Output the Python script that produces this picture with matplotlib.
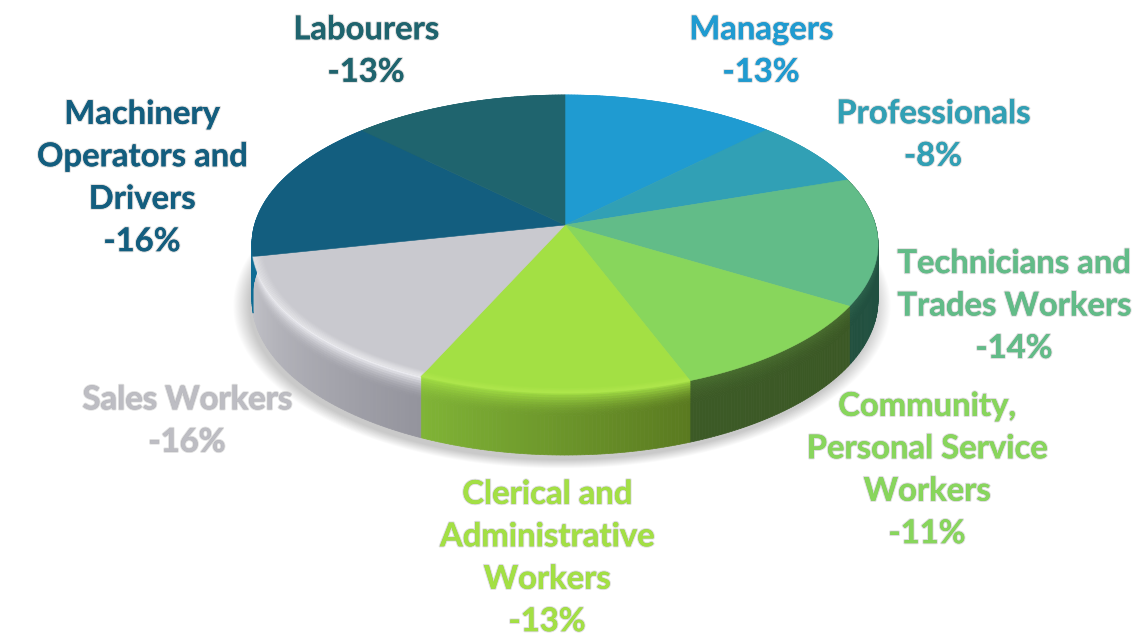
import numpy as np
import matplotlib
matplotlib.use("Agg")
import matplotlib.pyplot as plt
from matplotlib.collections import PolyCollection
from matplotlib.patches import Polygon
import matplotlib.patheffects as pe

categories = ["Managers", "Professionals", "Technicians and\nTrades Workers",
              "Community,\nPersonal Service\nWorkers",
              "Clerical and\nAdministrative\nWorkers", "Sales Workers",
              "Machinery\nOperators and\nDrivers", "Labourers"]
percent_labels = [13, 8, 14, 11, 13, 16, 16, 13]
values = [13.0, 7.6, 14.4, 11.0, 13.0, 15.5, 16.4, 13.1]
top_colors = ["#1F9BD1", "#31A0B5", "#62BC88", "#88D65C", "#A3E044", "#C9C9CF", "#135E7F", "#1F646E"]
side_start = ["#1F9BD1", "#31A0B5", "#1E5042", "#3B5825", "#5A7A20", "#94949D", "#0F6C94", "#1F646E"]
side_end = ["#1F9BD1", "#31A0B5", "#22503F", "#3C5A26", "#80B436", "#C2C2C8", "#0F6C94", "#1F646E"]
text_colors = ["#1F9BD1", "#31A0B5", "#62BC88", "#88D65C", "#A3E044", "#BDBDC3", "#135E7F", "#1F646E"]
label_xy = [(761, 51), (933, 135), (1014, 306), (927, 470), (547, 558), (187, 421), (142, 178), (366, 51)]

plt.rcParams["font.family"] = ["Lato", "DejaVu Sans"]
fig = plt.figure(figsize=(11.34, 6.43), dpi=100)
ax = fig.add_axes([0, 0, 1, 1])
ax.set_xlim(0, 1134)
ax.set_ylim(643, 0)
ax.axis("off")

CX, CY, A, B, C = 565, 225, 146.6, 0.1275, 310.5


def project(t, r=1.0):
    X, Y = r * np.sin(t), r * np.cos(t)
    d = 1 + B * Y
    return CX + C * X / d, CY - A * Y / d


def depth(t):
    return 55 + 7 * np.clip(-np.cos(t), -1, 1)


def hex_rgb(c):
    return np.array(matplotlib.colors.to_rgb(c))


edges = np.concatenate([[0], np.cumsum(values)]) / np.sum(values) * 2 * np.pi

# soft drop shadow under the disc
tt = np.linspace(0, 2 * np.pi, 300)
for grow in np.linspace(1.05, 1.0, 18):
    x, y = project(tt)
    dy = depth(tt)
    ax.add_patch(Polygon(np.c_[CX + (x - CX) * grow - 3, CY + (y - CY) * grow + dy + 5],
                         closed=True, fc="black", ec="none", alpha=0.012, zorder=1))

# extruded side wall
bands = np.r_[np.linspace(0, 0.36, 10), 1.0]
for i in range(len(values)):
    ts = np.linspace(edges[i], edges[i + 1], 70)
    polys, cols = [], []
    c0, c1 = hex_rgb(side_start[i]), hex_rgb(side_end[i])
    top = hex_rgb(top_colors[i])
    for j in range(len(ts) - 1):
        f = j / (len(ts) - 2)
        base = c0 * (1 - f) + c1 * f
        for k in range(len(bands) - 1):
            a, b = ts[j], ts[j + 1]
            xa, ya = project(a)
            xb, yb = project(b)
            h0, h1 = bands[k], bands[k + 1]
            polys.append([(xa, ya + h0 * depth(a)), (xb, yb + h0 * depth(b)),
                          (xb, yb + h1 * depth(b)), (xa, ya + h1 * depth(a))])
            fade = max(0.0, 1 - h0 / 0.36) ** 1.8
            if i in (4, 5):
                light = top if i == 4 else np.array([0.95, 0.95, 0.97])
                mix = 0.9 * fade
            else:
                light = top
                mix = 0.15 * fade
            cols.append(base * (1 - mix) + light * mix)
    ax.add_collection(PolyCollection(polys, facecolors=cols, edgecolors=cols, linewidths=0.5, zorder=2))

# top faces
for i in range(len(values)):
    ts = np.linspace(edges[i], edges[i + 1], 80)
    x, y = project(ts)
    pts = np.r_[[[CX, CY]], np.c_[x, y]]
    ax.add_patch(Polygon(pts, closed=True, fc=top_colors[i], ec=top_colors[i], lw=0.4, zorder=3))

# bevel highlight on the light front slices
for i, col in [(5, "#F4F4F6"), (4, "#B4EA50")]:
    ts = np.linspace(edges[i], edges[i + 1], 80)
    for r, al in zip(np.linspace(0.972, 1.0, 8), np.linspace(0.05, 0.45, 8)):
        x, y = project(ts, r)
        ax.plot(x, y, color=col, lw=1.2, alpha=al, zorder=4, solid_capstyle="butt")

# labels
for name, v, (lx, ly), col in zip(categories, percent_labels, label_xy, text_colors):
    ax.text(lx, ly, f"{name}\n-{v}%", color=col, fontsize=23.6, fontweight="bold",
            ha="center", va="center", linespacing=1.56, zorder=5,
            path_effects=[pe.withStroke(linewidth=1.6, foreground="#00000022")])

fig.savefig("out.png", dpi=100)
